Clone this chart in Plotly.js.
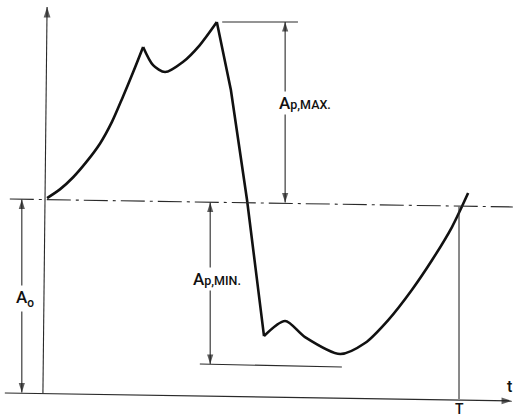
<!DOCTYPE html>
<html>
<head>
<meta charset="utf-8">
<script src="https://cdn.plot.ly/plotly-3.0.1.min.js"></script>
<style>html,body{margin:0;padding:0;background:#fff;}#chart{width:513px;height:416px;}</style>
</head>
<body>
<div id="chart"></div>
<script>
// Signal amplitude A (in units of A0) against time t (in units of T)
var curveT = [0.005, 0.036, 0.068, 0.101, 0.133, 0.162, 0.188, 0.213, 0.237,
              0.261, 0.290, 0.333, 0.374, 0.415,
              0.449, 0.488, 0.529,
              0.580, 0.628, 0.713, 0.773, 0.829, 0.886, 0.935, 0.983, 1.022];
var curveA = [1.010, 1.055, 1.118, 1.200, 1.293, 1.406, 1.534, 1.663, 1.793,
              1.699, 1.663, 1.715, 1.803, 1.922,
              1.570, 1.000, 0.295,
              0.373, 0.290, 0.202, 0.259, 0.378, 0.534, 0.689, 0.860, 1.036];
// indices where the curve has sharp corners, and which pieces are straight
var cornerIdx = [0, 8, 13, 16, 25];
var segShape = ['spline', 'spline', 'linear', 'spline'];

// reference levels
var A0 = 1.0;
var T = 1.0;
var ApMax = 1.922;   // peak level
var ApMin = 0.150;   // trough level

// axis end points
var yAxisT = [-0.005, 0.005], yAxisA = [0.0, 2.0];
var xAxisT = [-0.097, 1.128], xAxisA = [0.0, -0.041];
var baseT = [-0.085, 1.130], baseA = [1.005, 0.964];

// dimension lines
var dimA0T = [-0.056, -0.056], dimA0A = [0.003, 1.002];
var maxTickT = [0.428, 0.611], maxTickA = [ApMax, ApMax];
var dimMaxT = [0.580, 0.580], dimMaxA = [ApMax, 0.987];
var dimMinT = [0.399, 0.399], dimMinA = [0.987, ApMin];
var minTickT = [0.374, 0.717], minTickA = [ApMin, 0.135];
var tLineT = [T, T], tLineA = [0.965, -0.031];

var labels = ['A<sub>o</sub>', 'A<span style="font-size:12.5px">p,MAX.</span>', 'A<span style="font-size:12.5px">p,MIN.</span>', 't', 'T'];
var labelT = [-0.048, 0.560, 0.353, 1.123, 1.0];
var labelA = [0.492, 1.503, 0.591, 0.034, -0.084];

var thin = {color: '#2a2a2a', width: 1.1};
var font = 'Roboto, Arial, sans-serif';

var traces = [];
for (var s = 0; s < cornerIdx.length - 1; s++) {
  traces.push({
    x: curveT.slice(cornerIdx[s], cornerIdx[s + 1] + 1),
    y: curveA.slice(cornerIdx[s], cornerIdx[s + 1] + 1),
    mode: 'lines', type: 'scatter', hoverinfo: 'skip',
    line: {color: '#111', width: 2.6, shape: segShape[s], smoothing: 0.8}
  });
}
function seg(x, y, extra) {
  var tr = {x: x, y: y, mode: 'lines', type: 'scatter', hoverinfo: 'skip', line: thin};
  for (var k in extra) tr[k] = extra[k];
  return tr;
}
function arrows(x, y, sizes, angles) {
  return seg(x, y, {
    mode: 'lines+markers',
    marker: {symbol: 'arrow', size: sizes, angle: angles, angleref: 'up', color: '#1a1a1a', line: {width: 0}}
  });
}
traces.push(arrows(yAxisT, yAxisA, [0, 11], [0, 0]));
traces.push(arrows(xAxisT, xAxisA, [0, 11], [0, 90]));
traces.push(seg(baseT, baseA, {line: {color: '#2a2a2a', width: 1.1, dash: '24px,5px,3px,5px'}}));
traces.push(arrows(dimA0T, dimA0A, [10, 10], [180, 0]));
traces.push(seg(maxTickT, maxTickA));
traces.push(arrows(dimMaxT, dimMaxA, [10, 10], [0, 180]));
traces.push(arrows(dimMinT, dimMinA, [10, 10], [0, 180]));
traces.push(seg(minTickT, minTickA));
traces.push(seg(tLineT, tLineA));

var anchors = ['center', 'left', 'left', 'center', 'center'];
var sizes = [17, 17, 17, 16, 14];
var annotations = labels.map(function (txt, i) {
  return {
    x: labelT[i], y: labelA[i], xref: 'x', yref: 'y', text: txt, showarrow: false,
    xanchor: anchors[i], yanchor: 'middle', bgcolor: i < 3 ? '#ffffff' : 'rgba(0,0,0,0)',
    borderpad: i < 3 ? 1 : 0, font: {family: font, size: sizes[i], color: '#111', weight: 500}
  };
});

var layout = {
  width: 513, height: 416,
  margin: {l: 0, r: 0, t: 0, b: 0},
  paper_bgcolor: '#ffffff', plot_bgcolor: '#ffffff',
  showlegend: false,
  xaxis: {range: [-0.1087, 1.1304], visible: false, fixedrange: true},
  yaxis: {range: [-0.1192, 2.0363], visible: false, fixedrange: true},
  annotations: annotations
};
Plotly.newPlot('chart', traces, layout, {staticPlot: true, displayModeBar: false});
</script>
</body>
</html>
